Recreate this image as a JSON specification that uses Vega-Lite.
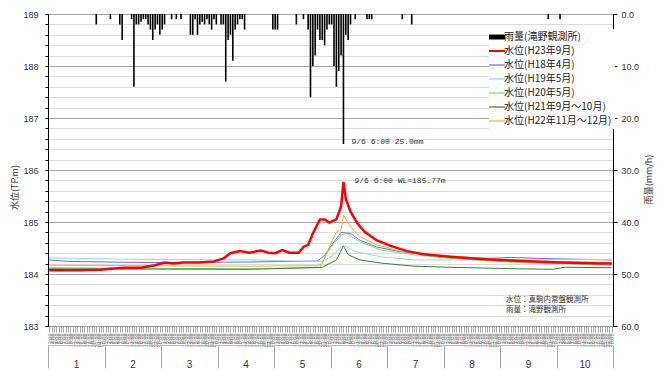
{
  "$schema": "https://vega.github.io/schema/vega-lite/v6.json",
  "width": 565,
  "height": 312,
  "autosize": {"type": "none"},
  "padding": {"left": 48, "top": 14, "right": 49, "bottom": 44},
  "background": "white",
  "config": {"view": {"stroke": "#000"}, "font": "Liberation Sans"},
  "datasets": {
    "rain": [
      {"h": 21, "r": 2}, {"h": 27, "r": 1}, {"h": 31, "r": 2}, {"h": 32, "r": 5}, {"h": 36, "r": 1}, {"h": 37, "r": 14}, {"h": 38, "r": 2}, {"h": 39, "r": 2},
      {"h": 40, "r": 1.5}, {"h": 41, "r": 1}, {"h": 42, "r": 1}, {"h": 43, "r": 2}, {"h": 44, "r": 3}, {"h": 45, "r": 5}, {"h": 46, "r": 3}, {"h": 47, "r": 2},
      {"h": 48, "r": 4}, {"h": 49, "r": 3}, {"h": 50, "r": 2}, {"h": 53, "r": 1}, {"h": 55, "r": 1}, {"h": 57, "r": 1}, {"h": 61, "r": 4}, {"h": 62, "r": 4},
      {"h": 63, "r": 1}, {"h": 64, "r": 4}, {"h": 65, "r": 2}, {"h": 66, "r": 1.5}, {"h": 67, "r": 2}, {"h": 68, "r": 1}, {"h": 69, "r": 2}, {"h": 70, "r": 3},
      {"h": 71, "r": 1}, {"h": 72, "r": 2}, {"h": 74, "r": 2}, {"h": 75, "r": 2}, {"h": 76, "r": 13}, {"h": 77, "r": 5}, {"h": 78, "r": 4}, {"h": 79, "r": 9},
      {"h": 80, "r": 3}, {"h": 81, "r": 2}, {"h": 82, "r": 1}, {"h": 83, "r": 1}, {"h": 84, "r": 3}, {"h": 96, "r": 3}, {"h": 97, "r": 3}, {"h": 98, "r": 3},
      {"h": 106, "r": 2}, {"h": 109, "r": 1}, {"h": 111, "r": 3}, {"h": 112, "r": 16}, {"h": 113, "r": 10}, {"h": 114, "r": 8}, {"h": 115, "r": 3}, {"h": 116, "r": 5},
      {"h": 117, "r": 5}, {"h": 118, "r": 6}, {"h": 119, "r": 3}, {"h": 120, "r": 2}, {"h": 121, "r": 2}, {"h": 122, "r": 10}, {"h": 123, "r": 14}, {"h": 124, "r": 11},
      {"h": 125, "r": 8}, {"h": 126, "r": 25}, {"h": 127, "r": 4}, {"h": 128, "r": 5}, {"h": 129, "r": 2}, {"h": 131, "r": 1}, {"h": 136, "r": 1}, {"h": 137, "r": 1},
      {"h": 138, "r": 1}, {"h": 151, "r": 1}, {"h": 155, "r": 2}, {"h": 213, "r": 1}, {"h": 218, "r": 1}
    ],
    "level": [
      {"s": "水位(H23年9月)", "h": 1, "v": 184.07}, {"s": "水位(H23年9月)", "h": 14, "v": 184.07}, {"s": "水位(H23年9月)", "h": 23, "v": 184.08},
      {"s": "水位(H23年9月)", "h": 27, "v": 184.10}, {"s": "水位(H23年9月)", "h": 33, "v": 184.12}, {"s": "水位(H23年9月)", "h": 40, "v": 184.12},
      {"s": "水位(H23年9月)", "h": 46, "v": 184.17}, {"s": "水位(H23年9月)", "h": 50, "v": 184.22}, {"s": "水位(H23年9月)", "h": 54, "v": 184.20},
      {"s": "水位(H23年9月)", "h": 58, "v": 184.22}, {"s": "水位(H23年9月)", "h": 65, "v": 184.22}, {"s": "水位(H23年9月)", "h": 71, "v": 184.24},
      {"s": "水位(H23年9月)", "h": 75, "v": 184.30}, {"s": "水位(H23年9月)", "h": 78, "v": 184.40}, {"s": "水位(H23年9月)", "h": 82, "v": 184.44},
      {"s": "水位(H23年9月)", "h": 86, "v": 184.41}, {"s": "水位(H23年9月)", "h": 91, "v": 184.45}, {"s": "水位(H23年9月)", "h": 94, "v": 184.41},
      {"s": "水位(H23年9月)", "h": 97, "v": 184.40}, {"s": "水位(H23年9月)", "h": 100, "v": 184.46}, {"s": "水位(H23年9月)", "h": 103, "v": 184.41},
      {"s": "水位(H23年9月)", "h": 107, "v": 184.41}, {"s": "水位(H23年9月)", "h": 109, "v": 184.52}, {"s": "水位(H23年9月)", "h": 111, "v": 184.56},
      {"s": "水位(H23年9月)", "h": 113, "v": 184.78}, {"s": "水位(H23年9月)", "h": 116, "v": 185.05}, {"s": "水位(H23年9月)", "h": 118, "v": 185.05},
      {"s": "水位(H23年9月)", "h": 120, "v": 184.99}, {"s": "水位(H23年9月)", "h": 123, "v": 185.05}, {"s": "水位(H23年9月)", "h": 125, "v": 185.30},
      {"s": "水位(H23年9月)", "h": 126, "v": 185.77}, {"s": "水位(H23年9月)", "h": 127, "v": 185.45}, {"s": "水位(H23年9月)", "h": 129, "v": 185.20},
      {"s": "水位(H23年9月)", "h": 132, "v": 184.97}, {"s": "水位(H23年9月)", "h": 135, "v": 184.81}, {"s": "水位(H23年9月)", "h": 140, "v": 184.65},
      {"s": "水位(H23年9月)", "h": 146, "v": 184.54}, {"s": "水位(H23年9月)", "h": 153, "v": 184.44}, {"s": "水位(H23年9月)", "h": 160, "v": 184.38},
      {"s": "水位(H23年9月)", "h": 171, "v": 184.33}, {"s": "水位(H23年9月)", "h": 184, "v": 184.29}, {"s": "水位(H23年9月)", "h": 201, "v": 184.25},
      {"s": "水位(H23年9月)", "h": 218, "v": 184.22}, {"s": "水位(H23年9月)", "h": 235, "v": 184.20}, {"s": "水位(H23年9月)", "h": 240, "v": 184.20},

      {"s": "水位(H18年4月)", "h": 1, "v": 184.27}, {"s": "水位(H18年4月)", "h": 10, "v": 184.24}, {"s": "水位(H18年4月)", "h": 44, "v": 184.22},
      {"s": "水位(H18年4月)", "h": 86, "v": 184.23}, {"s": "水位(H18年4月)", "h": 115, "v": 184.25}, {"s": "水位(H18年4月)", "h": 118, "v": 184.36},
      {"s": "水位(H18年4月)", "h": 122, "v": 184.62}, {"s": "水位(H18年4月)", "h": 125, "v": 184.80}, {"s": "水位(H18年4月)", "h": 129, "v": 184.78},
      {"s": "水位(H18年4月)", "h": 133, "v": 184.65}, {"s": "水位(H18年4月)", "h": 140, "v": 184.52}, {"s": "水位(H18年4月)", "h": 150, "v": 184.43},
      {"s": "水位(H18年4月)", "h": 164, "v": 184.37}, {"s": "水位(H18年4月)", "h": 175, "v": 184.33}, {"s": "水位(H18年4月)", "h": 188, "v": 184.30},
      {"s": "水位(H18年4月)", "h": 197, "v": 184.32}, {"s": "水位(H18年4月)", "h": 209, "v": 184.30}, {"s": "水位(H18年4月)", "h": 240, "v": 184.27},

      {"s": "水位(H19年5月)", "h": 1, "v": 184.31}, {"s": "水位(H19年5月)", "h": 40, "v": 184.28}, {"s": "水位(H19年5月)", "h": 86, "v": 184.27},
      {"s": "水位(H19年5月)", "h": 115, "v": 184.24}, {"s": "水位(H19年5月)", "h": 118, "v": 184.26}, {"s": "水位(H19年5月)", "h": 122, "v": 184.38},
      {"s": "水位(H19年5月)", "h": 126, "v": 184.56}, {"s": "水位(H19年5月)", "h": 131, "v": 184.43}, {"s": "水位(H19年5月)", "h": 142, "v": 184.33},
      {"s": "水位(H19年5月)", "h": 156, "v": 184.27}, {"s": "水位(H19年5月)", "h": 171, "v": 184.27}, {"s": "水位(H19年5月)", "h": 240, "v": 184.28},

      {"s": "水位(H20年5月)", "h": 1, "v": 184.12}, {"s": "水位(H20年5月)", "h": 86, "v": 184.10}, {"s": "水位(H20年5月)", "h": 116, "v": 184.12},
      {"s": "水位(H20年5月)", "h": 119, "v": 184.40}, {"s": "水位(H20年5月)", "h": 122, "v": 184.59}, {"s": "水位(H20年5月)", "h": 125, "v": 184.75},
      {"s": "水位(H20年5月)", "h": 127, "v": 184.78}, {"s": "水位(H20年5月)", "h": 133, "v": 184.62}, {"s": "水位(H20年5月)", "h": 142, "v": 184.46},
      {"s": "水位(H20年5月)", "h": 156, "v": 184.37}, {"s": "水位(H20年5月)", "h": 171, "v": 184.30}, {"s": "水位(H20年5月)", "h": 200, "v": 184.22},
      {"s": "水位(H20年5月)", "h": 240, "v": 184.17},

      {"s": "水位(H21年9月～10月)", "h": 1, "v": 184.10}, {"s": "水位(H21年9月～10月)", "h": 86, "v": 184.09}, {"s": "水位(H21年9月～10月)", "h": 117, "v": 184.13},
      {"s": "水位(H21年9月～10月)", "h": 123, "v": 184.27}, {"s": "水位(H21年9月～10月)", "h": 126, "v": 184.54}, {"s": "水位(H21年9月～10月)", "h": 128, "v": 184.37},
      {"s": "水位(H21年9月～10月)", "h": 133, "v": 184.27}, {"s": "水位(H21年9月～10月)", "h": 142, "v": 184.21}, {"s": "水位(H21年9月～10月)", "h": 156, "v": 184.15},
      {"s": "水位(H21年9月～10月)", "h": 171, "v": 184.13}, {"s": "水位(H21年9月～10月)", "h": 200, "v": 184.10}, {"s": "水位(H21年9月～10月)", "h": 215, "v": 184.09},
      {"s": "水位(H21年9月～10月)", "h": 220, "v": 184.13}, {"s": "水位(H21年9月～10月)", "h": 240, "v": 184.12},

      {"s": "水位(H22年11月～12月)", "h": 1, "v": 184.17}, {"s": "水位(H22年11月～12月)", "h": 86, "v": 184.15}, {"s": "水位(H22年11月～12月)", "h": 115, "v": 184.16},
      {"s": "水位(H22年11月～12月)", "h": 117, "v": 184.20}, {"s": "水位(H22年11月～12月)", "h": 120, "v": 184.52}, {"s": "水位(H22年11月～12月)", "h": 123, "v": 184.81},
      {"s": "水位(H22年11月～12月)", "h": 125, "v": 184.85}, {"s": "水位(H22年11月～12月)", "h": 126, "v": 185.13}, {"s": "水位(H22年11月～12月)", "h": 129, "v": 184.91},
      {"s": "水位(H22年11月～12月)", "h": 133, "v": 184.72}, {"s": "水位(H22年11月～12月)", "h": 140, "v": 184.56}, {"s": "水位(H22年11月～12月)", "h": 150, "v": 184.44},
      {"s": "水位(H22年11月～12月)", "h": 164, "v": 184.37}, {"s": "水位(H22年11月～12月)", "h": 185, "v": 184.30}, {"s": "水位(H22年11月～12月)", "h": 210, "v": 184.25},
      {"s": "水位(H22年11月～12月)", "h": 240, "v": 184.22}
    ]
  },
  "layer": [
    {
      "data": {"name": "rain"},
      "mark": {"type": "rule", "strokeWidth": 1.6, "color": "#000"},
      "encoding": {
        "x": {
          "field": "h", "type": "quantitative",
          "scale": {"domain": [0.5, 240.5], "nice": false, "zero": false},
          "axis": {"orient": "bottom", "title": null, "grid": false, "tickCount": 240,
            "labelExpr": "(datum.value % 24) + ':00'",
            "labelAngle": 270, "labelFontSize": 5.5, "labelColor": "#777", "labelOverlap": false, "labelFlush": false, "labelBound": false,
            "tickSize": 6, "tickColor": "#aaa", "domainColor": "#999", "labelPadding": 1}
        },
        "y": {
          "field": "r", "type": "quantitative",
          "scale": {"domain": [0, 60], "reverse": true, "nice": false, "zero": true},
          "axis": {"orient": "right", "title": "雨量(mm/h)", "titleFont": "Noto Sans CJK JP", "titleFontSize": 9, "titleFontWeight": "normal", "titleColor": "#333",
            "titleAngle": 270, "titlePadding": 15, "titleY": 165, "values": [0, 10, 20, 30, 40, 50, 60], "format": ".1f", "labelFontSize": 9, "labelColor": "#333",
            "grid": false, "domainColor": "black", "tickColor": "black", "tickSize": 4, "labelPadding": 4}
        },
        "y2": {"datum": 0}
      }
    },
    {
      "data": {"name": "level"},
      "transform": [{"filter": "datum.s !== '水位(H23年9月)'"}],
      "mark": {"type": "line", "strokeWidth": 1},
      "encoding": {
        "x": {
          "field": "h", "type": "quantitative",
          "axis": {"orient": "bottom", "offset": 19, "title": null, "grid": false,
            "values": [0.5, 24.5, 48.5, 72.5, 96.5, 120.5, 144.5, 168.5, 192.5, 216.5, 240.5],
            "labelExpr": "datum.value > 230 ? '' : '' + ((datum.value - 0.5) / 24 + 1)",
            "labelOffset": 28, "labelAlign": "center", "labelFontSize": 10, "labelColor": "#333", "labelPadding": -9,
            "labelOverlap": false, "labelFlush": false, "labelBound": false,
            "tickSize": 23, "tickColor": "#aaa", "domainColor": "#bbb"}
        },
        "y": {
          "field": "v", "type": "quantitative",
          "scale": {"domain": [183, 189], "nice": false, "zero": false},
          "axis": {"orient": "left", "title": "水位(TP.m)", "titleFont": "Noto Sans CJK JP", "titleFontSize": 9, "titleFontWeight": "normal", "titleColor": "#333",
            "titlePadding": 3, "titleY": 173,
            "values": [183, 183.2, 183.4, 183.6, 183.8, 184, 184.2, 184.4, 184.6, 184.8, 185, 185.2, 185.4, 185.6, 185.8, 186, 186.2, 186.4, 186.6, 186.8, 187, 187.2, 187.4, 187.6, 187.8, 188, 188.2, 188.4, 188.6, 188.8, 189],
            "labelExpr": "abs(datum.value - round(datum.value)) < 0.01 ? format(datum.value, 'd') : ''",
            "labelFontSize": 9, "labelColor": "#333", "labelPadding": 7, "tickSize": 3, "tickColor": "black", "domainColor": "black",
            "grid": true,
            "gridColor": {"condition": {"test": "abs(datum.value - round(datum.value)) < 0.01", "value": "#a6a6a6"}, "value": "#dcdcdc"}
          }
        },
        "color": {
          "field": "s", "type": "nominal",
          "scale": {
            "domain": ["雨量(滝野観測所)", "水位(H23年9月)", "水位(H18年4月)", "水位(H19年5月)", "水位(H20年5月)", "水位(H21年9月～10月)", "水位(H22年11月～12月)"],
            "range": ["#000000", "#ff0000", "#6a6aff", "#8fd8f8", "#66ee66", "#3a7d3a", "#ffaa33"]
          },
          "legend": {
            "title": null, "orient": "none", "legendX": 441, "legendY": 15,
            "symbolType": "stroke", "symbolSize": 256, "symbolStrokeWidth": 1,
            "labelFont": "Noto Sans CJK JP", "labelFontSize": 10, "labelColor": "#222", "labelLimit": 250, "labelOffset": 2,
            "rowPadding": 4, "padding": 3, "fillColor": "white",
            "encode": {"symbols": {"update": {
              "strokeWidth": {"signal": "datum.value === '雨量(滝野観測所)' ? 5 : (datum.value === '水位(H23年9月)' ? 2 : 1.2)"},
              "strokeJoin": {"value": "bevel"},
              "strokeCap": {"value": "butt"}
            }}}
          }
        }
      }
    },
    {
      "data": {"name": "level"},
      "transform": [{"filter": "datum.s === '水位(H23年9月)'"}],
      "mark": {"type": "line", "strokeWidth": 2.5},
      "encoding": {
        "x": {"field": "h", "type": "quantitative", "axis": null},
        "y": {"field": "v", "type": "quantitative", "scale": {"domain": [183, 189], "nice": false, "zero": false}, "axis": null},
        "color": {"field": "s", "type": "nominal"}
      }
    },
    {
      "data": {"values": [{"h": 126, "r": 25, "label": "9/6 6:00 25.0mm"}]},
      "mark": {"type": "text", "align": "left", "baseline": "middle", "dx": 8, "dy": -2, "font": "Liberation Mono", "fontSize": 8, "color": "#333"},
      "encoding": {
        "x": {"field": "h", "type": "quantitative", "axis": null},
        "y": {"field": "r", "type": "quantitative", "scale": {"domain": [0, 60], "reverse": true, "nice": false}, "axis": null},
        "text": {"field": "label"}
      }
    },
    {
      "data": {"values": [{"h": 126, "v": 185.77, "label": "9/6 6:00 WL=185.77m"}]},
      "mark": {"type": "text", "align": "left", "baseline": "middle", "dx": 11, "dy": -1, "font": "Liberation Mono", "fontSize": 8, "color": "#333"},
      "encoding": {
        "x": {"field": "h", "type": "quantitative", "axis": null},
        "y": {"field": "v", "type": "quantitative", "scale": {"domain": [183, 189], "nice": false, "zero": false}, "axis": null},
        "text": {"field": "label"}
      }
    },
    {
      "data": {"values": [
        {"h": 195, "v": 183.50, "label": "水位：真駒内常盤観測所"},
        {"h": 195, "v": 183.30, "label": "雨量：滝野観測所"}
      ]},
      "mark": {"type": "text", "align": "left", "baseline": "middle", "font": "Noto Sans CJK JP", "fontSize": 7.5, "color": "#333"},
      "encoding": {
        "x": {"field": "h", "type": "quantitative", "axis": null},
        "y": {"field": "v", "type": "quantitative", "scale": {"domain": [183, 189], "nice": false, "zero": false}, "axis": null},
        "text": {"field": "label"}
      }
    }
  ],
  "resolve": {"scale": {"y": "independent"}, "axis": {"x": "independent"}}
}
